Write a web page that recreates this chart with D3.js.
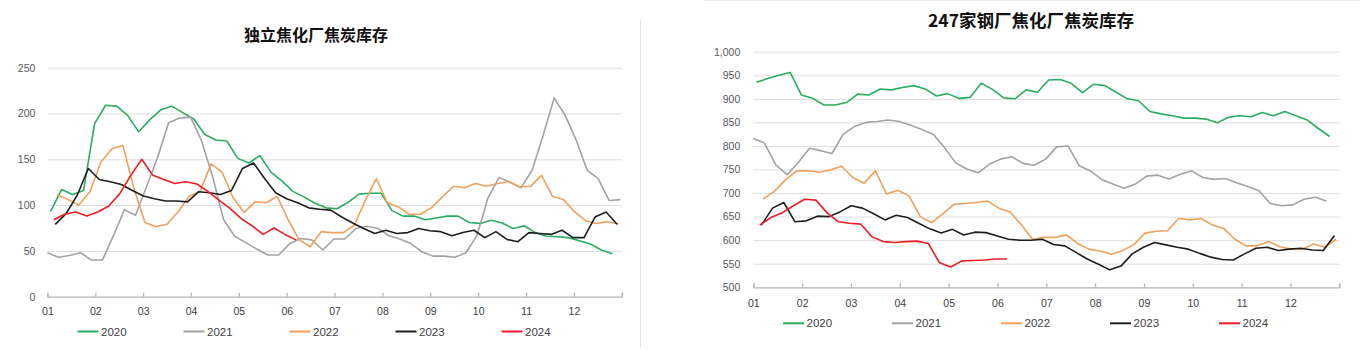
<!DOCTYPE html>
<html><head><meta charset="utf-8">
<script src="https://cdn.jsdelivr.net/npm/d3@7"></script>
<style>body{margin:0;background:#fff}svg{display:block}</style>
</head><body>
<svg id="c" width="1360" height="351"></svg>
<script>
// ---------- data ----------
const years = ["2020", "2021", "2022", "2023", "2024"];
const colors = ["#2aac63", "#a3a3a3", "#f2a15c", "#1e1e1e", "#f01c26"];
const firstFriday = [2, 0, 6, 5, 4]; // day-of-year of first weekly observation
const monthLabels = ["01","02","03","04","05","06","07","08","09","10","11","12"];

const leftTitle = "独立焦化厂焦炭库存";
const leftYTicks = [0, 50, 100, 150, 200, 250];
const left2020 = [93,117,111.5,116,189,209,208,198,180,193,204,208,201,194,177,171,170,151,146,154,136,126.5,115,109,102,97,96,103,112,113,113,94,88,88,84,86,88,88,81,80,83.5,80.5,74.5,77.5,70,66,65.5,64.5,61,57.5,51,47];
const left2021 = [48,43,45,48,40,40,67,95,89,120,152,190,195,196,170,131,84,66,59,52,45.5,45.5,58,63.5,62,51,63,63,74.5,77,74.5,66.5,63,58,49,44.3,44.3,43,48,67,108,130,125,119,138,176,217,198,171,138,129,105,106];
const left2022 = [111.5,106,100,114.5,147,161.5,165,118,81,76.5,79,92.5,109.5,115,145,136,108,92,103.5,102.5,109.5,84,62,54.5,71,70,70,78,105,129,102.5,98,90,90,97,109,120.5,119,123.5,120.5,123.5,125.5,120,120.5,132.5,109.5,106,92.5,83,80,82,79];
const left2023 = [79,91,111,140,128,125.5,122.5,116,110,107,104.5,104.5,103.5,114.5,113.5,111.5,116,140,146,129,113.5,107,102.5,97,95.5,94.5,87,80.5,74.5,69,72.5,69,70,74.5,72,71,66.5,70,72.5,64.5,71,62.5,60,70,69,68,72.5,64.5,64.5,87,92.5,79];
const left2024 = [84,90,92.5,88,92.5,99,112.5,132.5,150,132.5,128,123.5,125.5,123,115,105.5,96.5,85.5,77.5,68,75,68,62];

const rightTitle = "247家钢厂焦化厂焦炭库存";
const rightYTicks = [500, 550, 600, 650, 700, 750, 800, 850, 900, 950, 1000];
const right2020 = [935,943,950,956,908,901,887,887,892,910,908,921,919,924,928,921,906,911,901,903,933,920,902,900,919,914,940,941,933,913,931,928,914,900,896,873,868,864,859,859,857,849,861,864,862,871,864,873,864,855,837,820];
const right2021 = [816,806,760,739,765,795,790,784,825,841,850,852,855,852,844,835,825,797,764,751,743,761,772,777,763,759,772,798,800,758,747,729,719,710,719,736,738,730,740,747,733,729,731,722,714,705,678,673,675,687,691,683];
const right2022 = [687,703,728,747,747.5,744,749,757,733,721,747,698,706,694,650,637,656,676,678,680,683,668,660,632,602,606,606,611,593,581,577,570,578,590,615,619,620,646,643,646,632,625,602,588,588,597,586,581,581,592,585,602];
const right2023 = [632,668,680,639,641,651,650,660,673,668,656,643,653,648,636,624,615,623,611,617,616,609,602,600,600,602,591,588,574,560,549,537,545,571,585,595,590,585,581,572,564,559,558,571,583,585,578,581,583,579,578,610];
const right2024 = [632,648,658,673,687,685,658,639,636,634,607,597,595,597,598,593,552,543,556,557,558,560,560];

// ---------- drawing ----------
const svg = d3.select("#c");
const numFont = "'Liberation Sans', Arial, sans-serif";
const cjkFont = "'Noto Sans CJK SC', 'Noto Sans', sans-serif";

function panel(cfg) {
  const g = svg.append("g");
  const x = d3.scaleLinear().domain([0, 365]).range([cfg.x0, cfg.x1]);
  const y = d3.scaleLinear().domain(cfg.yDomain).range([cfg.yb, cfg.yt]);
  const monthPos = d3.range(13).map(m => m * 365 / 12);

  // title
  g.append("text").attr("x", cfg.titleX).attr("y", cfg.titleY)
    .attr("text-anchor", "middle").attr("font-family", cjkFont)
    .attr("font-weight", "bold").attr("font-size", cfg.titleSize)
    .attr("fill", "#111").text(cfg.title);

  // y axis + gridlines
  const ya = g.append("g").attr("transform", `translate(${cfg.x0},0)`)
    .call(d3.axisLeft(y).tickValues(cfg.yTicks).tickSize(-(cfg.x1 - cfg.x0))
      .tickPadding(cfg.yPad).tickFormat(cfg.yFmt));
  ya.select(".domain").remove();
  ya.selectAll(".tick line").attr("stroke", "#dedede").attr("stroke-width", 1)
    .filter(d => d === cfg.yDomain[0]).remove();
  ya.selectAll(".tick text").attr("fill", "#595959")
    .attr("font-family", numFont).attr("font-size", 10.5);

  // x axis
  const xa = g.append("g").attr("transform", `translate(0,${cfg.yb})`)
    .call(d3.axisBottom(x).tickValues(monthPos).tickSize(-4).tickPadding(cfg.xPad)
      .tickFormat((d, i) => monthLabels[i] || ""));
  xa.select(".domain").attr("stroke", "#b4b4b4").attr("stroke-width", 1.2);
  xa.selectAll(".tick line").attr("stroke", "#b4b4b4").attr("stroke-width", 1.2);
  xa.selectAll(".tick text").attr("fill", "#404040")
    .attr("font-family", numFont).attr("font-size", 10.5);

  // series
  const line = k => d3.line()
    .x((d, i) => x(firstFriday[k] + 7 * i))
    .y(d => y(d));
  cfg.series.forEach((vals, k) => {
    g.append("path").datum(vals).attr("d", line(k))
      .attr("fill", "none").attr("stroke", colors[k])
      .attr("stroke-width", 1.6).attr("stroke-linejoin", "round");
  });

  // legend
  years.forEach((yr, k) => {
    const lx = cfg.legX + k * cfg.legStep;
    g.append("line").attr("x1", lx).attr("x2", lx + 21)
      .attr("y1", cfg.legY).attr("y2", cfg.legY)
      .attr("stroke", colors[k]).attr("stroke-width", 2);
    g.append("text").attr("x", lx + 23.5).attr("y", cfg.legY)
      .attr("dy", "0.36em").attr("font-family", numFont).attr("font-size", 11.5)
      .attr("fill", "#404040").text(yr);
  });
}

panel({
  title: leftTitle, titleX: 316, titleY: 41, titleSize: 16,
  x0: 47.4, x1: 621.8, yb: 296.7, yt: 67.7, yDomain: [0, 250],
  yTicks: leftYTicks, yFmt: d3.format("d"), yPad: 12, xPad: 11,
  series: [left2020, left2021, left2022, left2023, left2024],
  legX: 77.5, legStep: 106, legY: 331.5
});

panel({
  title: rightTitle, titleX: 1031, titleY: 26.5, titleSize: 17.5,
  x0: 753.3, x1: 1339.3, yb: 287.3, yt: 51.7, yDomain: [500, 1000],
  yTicks: rightYTicks, yFmt: d3.format(","), yPad: 13, xPad: 12,
  series: [right2020, right2021, right2022, right2023, right2024],
  legX: 783, legStep: 109, legY: 323.3
});

// panel borders
svg.append("line").attr("x1", 640.5).attr("x2", 640.5).attr("y1", 20).attr("y2", 347)
  .attr("stroke", "#e4e4e4").attr("stroke-width", 1);
svg.append("line").attr("x1", 703).attr("x2", 1360).attr("y1", 0.5).attr("y2", 0.5)
  .attr("stroke", "#ececec").attr("stroke-width", 1);
</script>
</body></html>
